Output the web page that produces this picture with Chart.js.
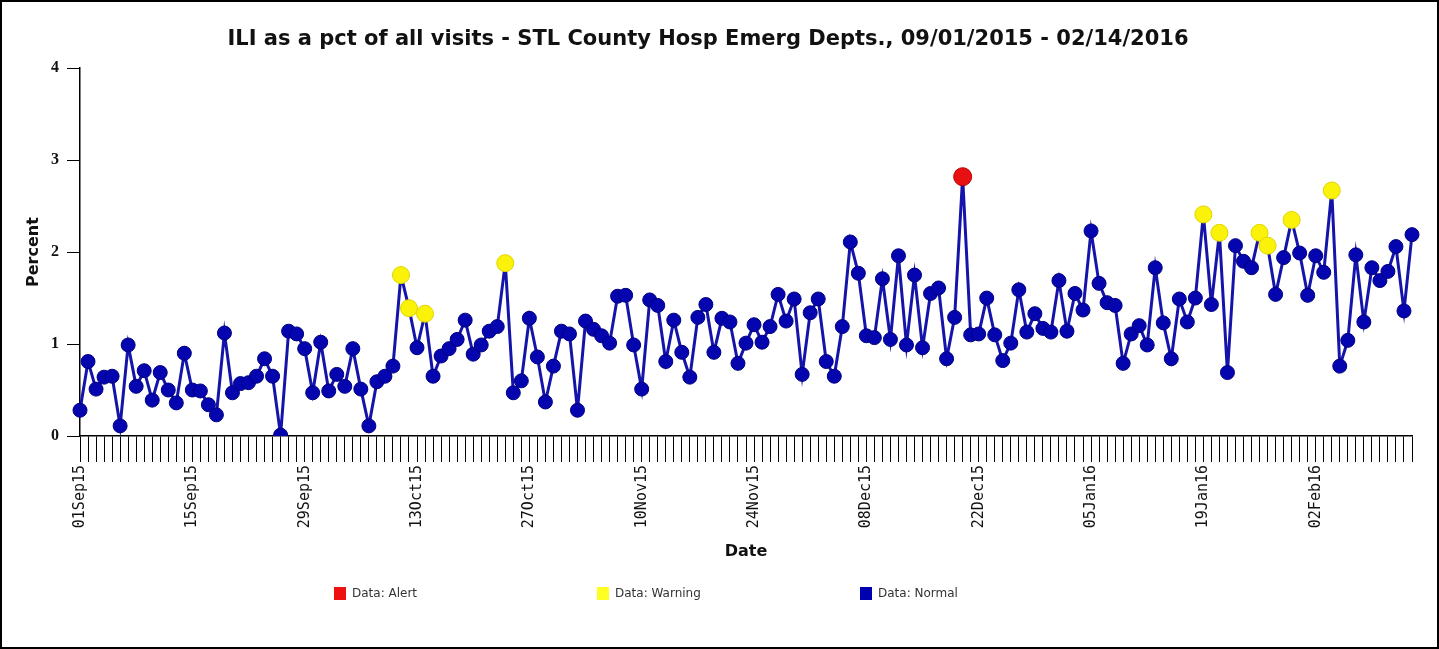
<!DOCTYPE html>
<html>
<head>
<meta charset="utf-8">
<script src="https://cdn.jsdelivr.net/npm/chart.js@4.4.0/dist/chart.umd.min.js"></script>
<style>
html, body { margin: 0; padding: 0; background: #fff; }
#wrap { position: absolute; left: 0; top: 0; width: 1435px; height: 645px; border: 2px solid #000; }
canvas { display: block; }
#legend { position: absolute; left: 332px; top: 584px; display: flex; }
#legend .item { width: 263px; display: flex; align-items: center; font: 12px "DejaVu Sans", sans-serif; color: #333; }
#legend .box { width: 12px; height: 13px; margin-right: 6px; }
</style>
</head>
<body>
<div id="wrap">
  <canvas id="chart" width="1435" height="645"></canvas>
  <div id="legend"></div>
</div>
<script>
// daily ILI percent, 01Sep15 .. 14Feb16
var values = [
  0.28, 0.81, 0.51, 0.64, 0.65, 0.11, 0.99, 0.54, 0.71, 0.39,
  0.69, 0.50, 0.36, 0.90, 0.50, 0.49, 0.34, 0.23, 1.12, 0.47,
  0.57, 0.58, 0.65, 0.84, 0.65, 0.01, 1.14, 1.11, 0.95, 0.47,
  1.02, 0.49, 0.67, 0.54, 0.95, 0.51, 0.11, 0.59, 0.65, 0.76,
  1.75, 1.39, 0.96, 1.33, 0.65, 0.87, 0.95, 1.05, 1.26, 0.89,
  0.99, 1.14, 1.19, 1.88, 0.47, 0.60, 1.28, 0.86, 0.37, 0.76,
  1.14, 1.11, 0.28, 1.25, 1.16, 1.09, 1.01, 1.52, 1.53, 0.99,
  0.51, 1.48, 1.42, 0.81, 1.26, 0.91, 0.64, 1.29, 1.43, 0.91,
  1.28, 1.24, 0.79, 1.01, 1.21, 1.02, 1.19, 1.54, 1.25, 1.49,
  0.67, 1.34, 1.49, 0.81, 0.65, 1.19, 2.11, 1.77, 1.09, 1.07,
  1.71, 1.05, 1.96, 0.99, 1.75, 0.96, 1.55, 1.61, 0.84, 1.29,
  2.82, 1.10, 1.11, 1.50, 1.10, 0.82, 1.01, 1.59, 1.13, 1.33,
  1.17, 1.13, 1.69, 1.14, 1.55, 1.37, 2.23, 1.66, 1.45, 1.42,
  0.79, 1.11, 1.20, 0.99, 1.83, 1.23, 0.84, 1.49, 1.24, 1.50,
  2.41, 1.43, 2.21, 0.69, 2.07, 1.90, 1.83, 2.21, 2.07, 1.54,
  1.94, 2.35, 1.99, 1.53, 1.96, 1.78, 2.67, 0.76, 1.04, 1.97,
  1.24, 1.83, 1.69, 1.79, 2.06, 1.36, 2.19
];
var alertDates = ['20Dec15'];
var warningDates = ['11Oct15', '12Oct15', '14Oct15', '24Oct15', '19Jan16', '21Jan16', '26Jan16', '27Jan16', '30Jan16', '04Feb16'];
var tickLabels = ['01Sep15', '15Sep15', '29Sep15', '13Oct15', '27Oct15', '10Nov15', '24Nov15', '08Dec15', '22Dec15', '05Jan16', '19Jan16', '02Feb16'];

var monthNames = ['Jan', 'Feb', 'Mar', 'Apr', 'May', 'Jun', 'Jul', 'Aug', 'Sep', 'Oct', 'Nov', 'Dec'];
var dates = [];
var d = new Date(2015, 8, 1);
for (var i = 0; i < values.length; i++) {
  var dd = d.getDate() < 10 ? '0' + d.getDate() : '' + d.getDate();
  dates.push(dd + monthNames[d.getMonth()] + String(d.getFullYear()).slice(2));
  d.setDate(d.getDate() + 1);
}

function pick(list) {
  return values.map(function (v, i) { return list.indexOf(dates[i]) >= 0 ? v : null; });
}
function special(i) {
  return alertDates.indexOf(dates[i]) >= 0 || warningDates.indexOf(dates[i]) >= 0;
}

var comic = 'DejaVu Sans';

// html legend, built from the datasets
var htmlLegend = {
  id: 'htmlLegend',
  afterUpdate: function (chart) {
    var el = document.getElementById('legend');
    el.innerHTML = '';
    chart.data.datasets.forEach(function (ds) {
      var item = document.createElement('div');
      item.className = 'item';
      var box = document.createElement('span');
      box.className = 'box';
      box.style.background = ds.legendColor;
      var txt = document.createElement('span');
      txt.textContent = ds.label;
      item.appendChild(box);
      item.appendChild(txt);
      el.appendChild(item);
    });
  }
};

var g = new Chart(document.getElementById('chart'), {
  type: 'line',
  data: {
    labels: dates,
    datasets: [
      {
        label: 'Data: Alert',
        legendColor: '#ee1111',
        data: pick(alertDates),
        showLine: false,
        pointRadius: 9,
        pointBackgroundColor: '#e81010',
        pointBorderColor: '#b80000',
        pointBorderWidth: 1
      },
      {
        label: 'Data: Warning',
        legendColor: '#ffff22',
        data: pick(warningDates),
        showLine: false,
        pointRadius: 8.5,
        pointBackgroundColor: '#fbf20a',
        pointBorderColor: '#e0d400',
        pointBorderWidth: 1
      },
      {
        label: 'Data: Normal',
        legendColor: '#0000b0',
        data: values,
        borderColor: '#1414aa',
        borderWidth: 3,
        tension: 0,
        pointRadius: function (ctx) { return special(ctx.dataIndex) ? 0 : 7; },
        pointBackgroundColor: '#0505b0',
        pointBorderColor: '#000080',
        pointBorderWidth: 1
      }
    ]
  },
  options: {
    responsive: false,
    animation: false,
    layout: { padding: { left: 2, right: 25, top: 0, bottom: 71 } },
    plugins: {
      legend: { display: false },
      tooltip: { enabled: false },
      title: {
        display: true,
        text: 'ILI as a pct of all visits - STL County Hosp Emerg Depts., 09/01/2015 - 02/14/2016',
        color: '#111',
        font: { family: comic, size: 21, weight: 'bold' },
        padding: { top: 25, bottom: 16 }
      }
    },
    scales: {
      x: {
        grid: { drawOnChartArea: false, tickLength: 26, color: '#000', lineWidth: 1 },
        border: { color: '#000', width: 1.5 },
        ticks: {
          autoSkip: false,
          minRotation: 90,
          maxRotation: 90,
          padding: 3,
          color: '#111',
          font: { family: 'DejaVu Sans Mono', size: 15 },
          callback: function (value, index) {
            return tickLabels.indexOf(dates[index]) >= 0 ? dates[index] : '';
          }
        },
        title: {
          display: true,
          text: 'Date',
          color: '#111',
          font: { family: comic, size: 16, weight: 'bold' },
          padding: { top: 0, bottom: 15 }
        },
        afterFit: function (scale) { scale.height = 140; }
      },
      y: {
        min: 0,
        max: 4,
        grid: { drawOnChartArea: false, tickLength: 13, color: '#000', lineWidth: 1 },
        border: { color: '#000', width: 1.5 },
        ticks: {
          stepSize: 1,
          padding: 8,
          color: '#111',
          font: { family: 'Liberation Serif', size: 16, weight: 'bold' }
        },
        title: {
          display: true,
          text: 'Percent',
          color: '#111',
          font: { family: comic, size: 16, weight: 'bold' },
          padding: { top: 20, bottom: 0 }
        },
        afterFit: function (scale) { scale.width = 76; }
      }
    }
  },
  plugins: [htmlLegend]
});
</script>
</body>
</html>
